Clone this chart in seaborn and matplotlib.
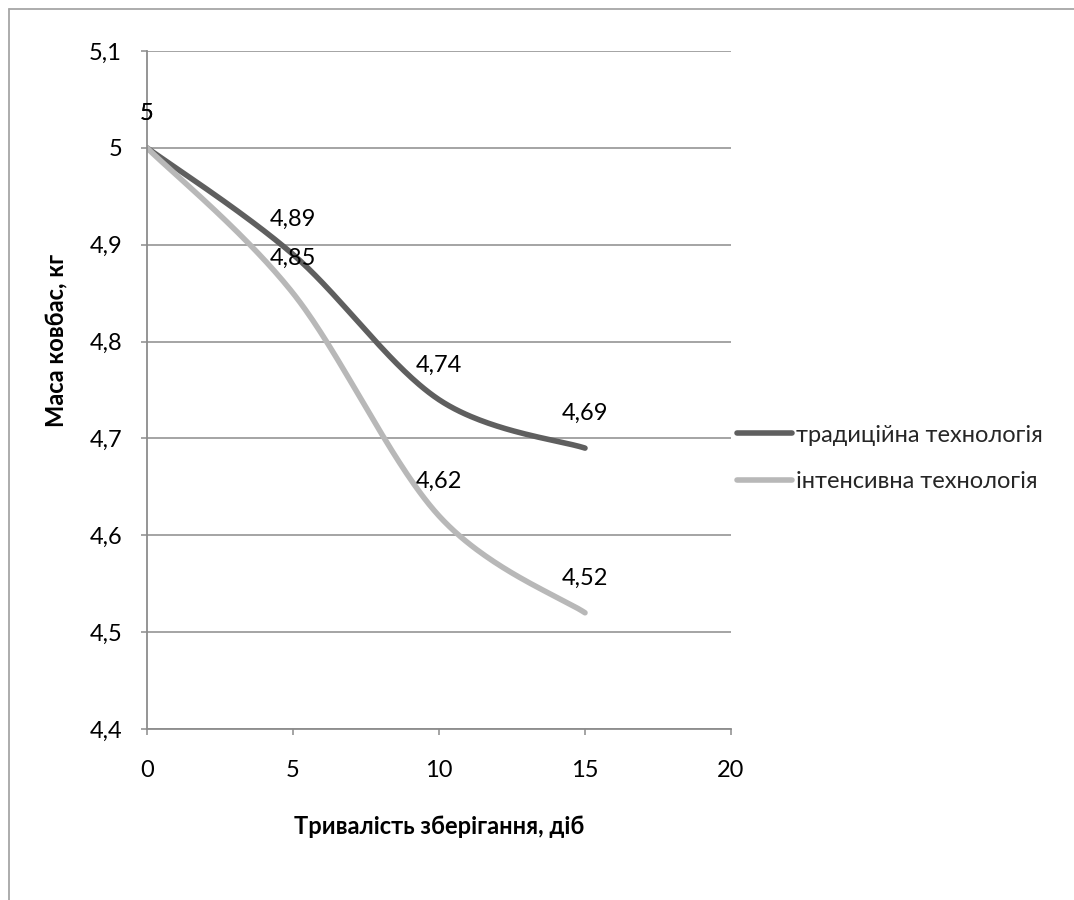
import numpy as np
import pandas as pd
import matplotlib
matplotlib.use("Agg")
import matplotlib.pyplot as plt
from matplotlib.lines import Line2D
import seaborn as sns

# ---- data ----
days = [0, 5, 10, 15]
traditional = [5.0, 4.89, 4.74, 4.69]
intensive = [5.0, 4.85, 4.62, 4.52]
series_names = ["традиційна технологія", "інтенсивна технологія"]
x_ticks = [0, 5, 10, 15, 20]
y_ticks = [4.4, 4.5, 4.6, 4.7, 4.8, 4.9, 5.0, 5.1]

sns.set_theme(style="white")
plt.rcParams["font.family"] = ["Lato", "DejaVu Sans"]

FS = 17

def smooth(xs, ys, n=60):
    """Excel-style smoothed line (cubic Bezier through data points)."""
    P = np.column_stack([xs, ys]).astype(float)
    m = len(P)
    out = []
    for i in range(m - 1):
        p0 = P[i - 1] if i > 0 else P[i]
        p1 = P[i]
        p2 = P[i + 1]
        p3 = P[i + 2] if i + 2 < m else P[i + 1]
        c1 = p1 + (p2 - p0) / 6.0
        c2 = p2 - (p3 - p1) / 6.0
        t = np.linspace(0, 1, n)[:, None]
        seg = ((1 - t) ** 3) * p1 + 3 * ((1 - t) ** 2) * t * c1 + 3 * (1 - t) * t ** 2 * c2 + t ** 3 * p2
        out.append(seg if i == 0 else seg[1:])
    arr = np.vstack(out)
    return arr[:, 0], arr[:, 1]

fig = plt.figure(figsize=(10.74, 9.0), dpi=100)
ax = fig.add_axes([147 / 1074, 1 - 729 / 900, (731 - 147) / 1074, (729 - 51) / 900])

colors = ["#5f5f5f", "#b8b8b8"]
LW = 4.0
for vals, name, col in zip([traditional, intensive], series_names, colors):
    sx, sy = smooth(days, vals)
    df = pd.DataFrame({"x": sx, "y": sy})
    sns.lineplot(data=df, x="x", y="y", sort=False, estimator=None, ax=ax,
                 color=col, linewidth=LW, label=name, solid_capstyle="round")

for vals in [traditional, intensive]:
    for xv, yv in zip(days, vals):
        txt = f"{yv:g}".replace(".", ",")
        ax.annotate(txt, (xv, yv), xytext=(0, 25), textcoords="offset points",
                    ha="center", va="center", fontsize=FS, color="black")

ax.set_xlim(0, 20)
ax.set_ylim(4.4, 5.1)
ax.set_xticks(x_ticks)
ax.set_xticklabels([str(v) for v in x_ticks])
ax.set_yticks(y_ticks)
ax.set_yticklabels([f"{v:g}".replace(".", ",") for v in y_ticks])

grey = "#8c8c8c"
ax.grid(axis="y", color=grey, linewidth=1.1)
ax.grid(axis="x", visible=False)
ax.set_axisbelow(True)
for s in ["top", "right"]:
    ax.spines[s].set_visible(False)
for s in ["left", "bottom"]:
    ax.spines[s].set_color(grey)
    ax.spines[s].set_linewidth(1.3)

ax.tick_params(axis="x", direction="out", length=4, width=1.1, color=grey,
               pad=18, labelsize=FS, labelcolor="black", bottom=True)
ax.tick_params(axis="y", direction="out", length=4, width=1.1, color=grey,
               pad=14, labelsize=FS, labelcolor="black", left=True)

ax.set_xlabel("Тривалість зберігання, діб", fontsize=FS, fontweight="bold", color="black")
ax.set_ylabel("Маса ковбас, кг", fontsize=FS, fontweight="bold", color="black")
ax.xaxis.set_label_coords(0.5, (729 - 815) / 678)
ax.yaxis.set_label_coords((68 - 147) / 584, (729 - 340) / 678)

leg = ax.legend(loc="center left", bbox_to_anchor=(737 / 1074, 1 - 458.5 / 900),
                bbox_transform=fig.transFigure, frameon=False, fontsize=FS,
                handlelength=2.35, handletextpad=0.15, labelspacing=1.1,
                borderpad=0, borderaxespad=0)
for line in leg.get_lines():
    line.set_linewidth(LW)
    line.set_solid_capstyle("round")

# chart-area border (cropped at right/bottom)
fig.add_artist(Line2D([9 / 1074, 9 / 1074], [0, 1 - 9 / 900], color="#a6a6a6", linewidth=1.3,
                      transform=fig.transFigure))
fig.add_artist(Line2D([9 / 1074, 1], [1 - 9 / 900, 1 - 9 / 900], color="#a6a6a6", linewidth=1.3,
                      transform=fig.transFigure))

fig.savefig("out.png", dpi=100, facecolor="white")
